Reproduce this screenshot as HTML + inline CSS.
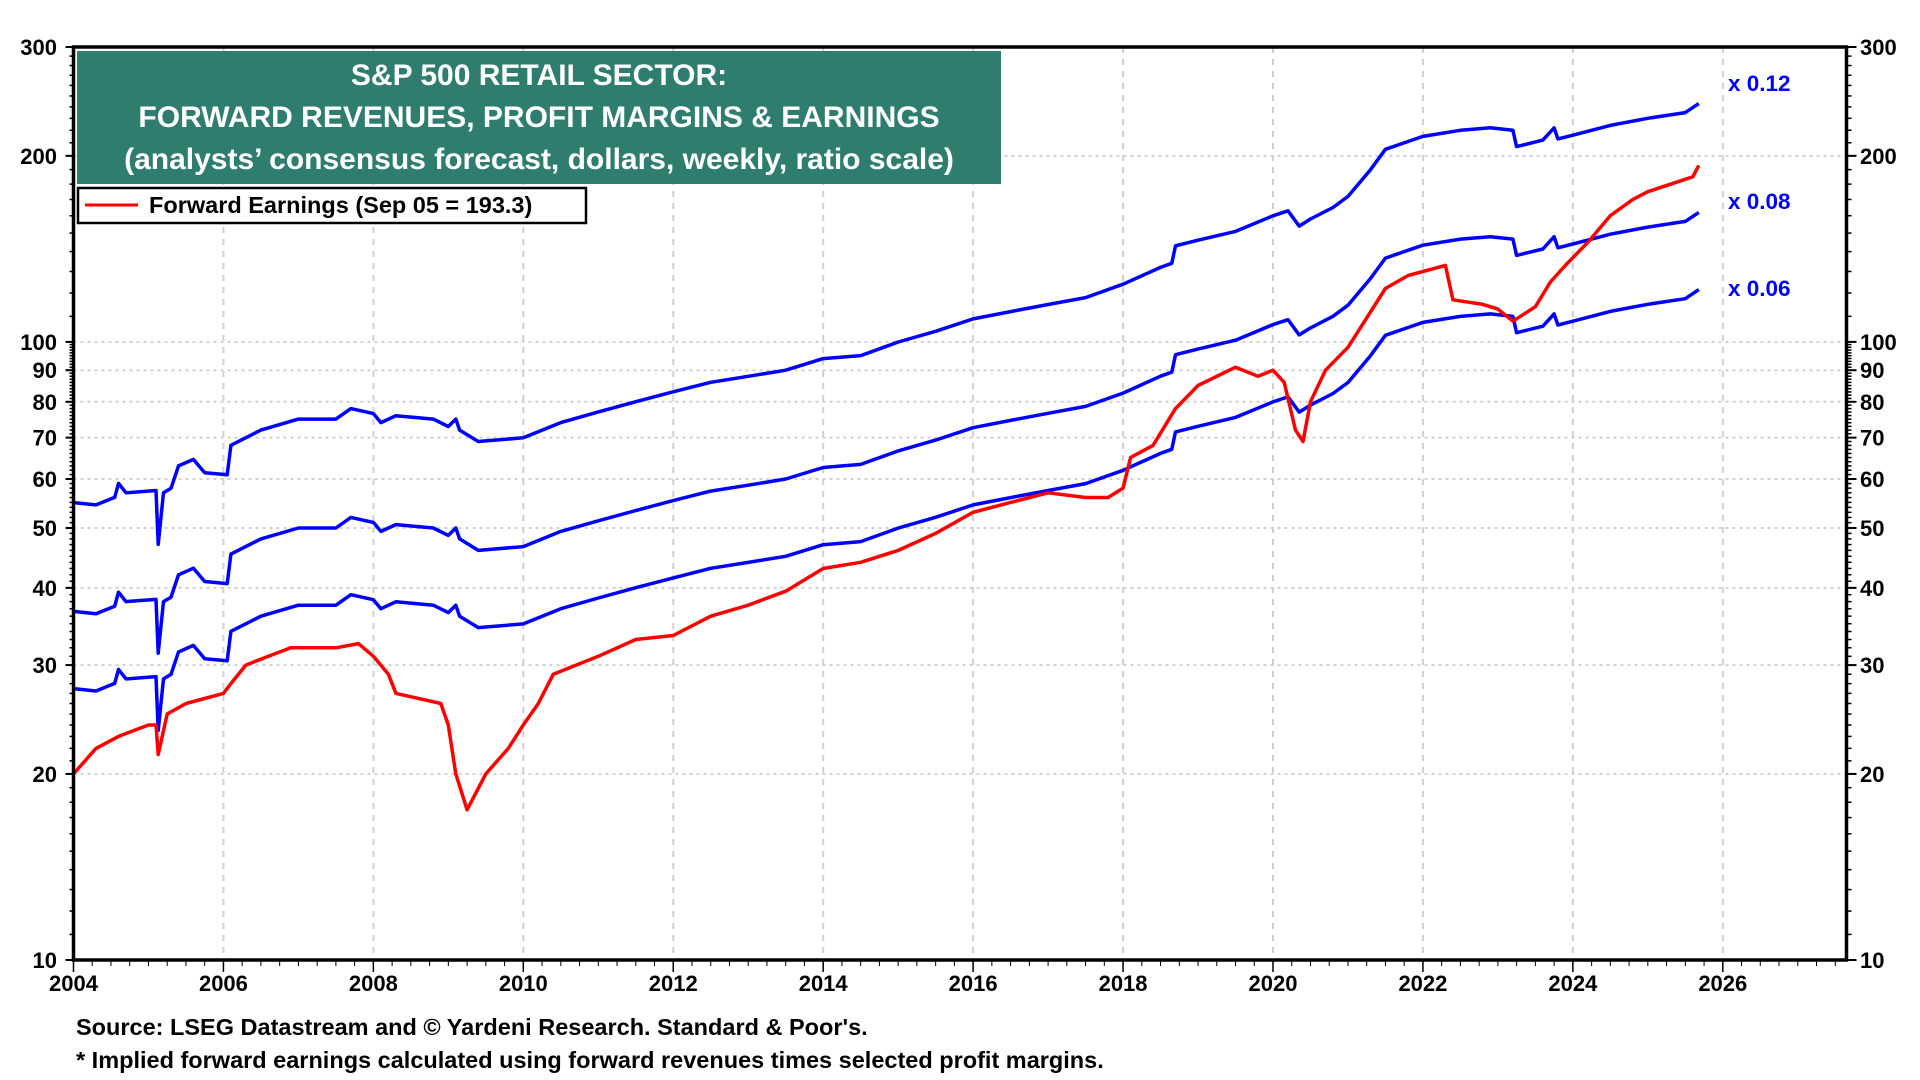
<!DOCTYPE html>
<html><head><meta charset="utf-8"><style>
body{margin:0;background:#fff;}
svg{display:block;font-family:"Liberation Sans",Arial,sans-serif;font-weight:bold;}
</style></head><body>
<svg id="chart" width="1920" height="1080" viewBox="0 0 1920 1080" xmlns="http://www.w3.org/2000/svg">
<g id="grid"></g>
<g id="series"></g>
<rect x="73.5" y="47" width="1773" height="913" fill="none" stroke="#000" stroke-width="3.5"/>
<g id="axes"></g>
<rect x="77" y="51" width="924" height="133" fill="#2e7d6f"/>
<text x="539" y="85" fill="#fff" font-size="30" text-anchor="middle">S&amp;P 500 RETAIL SECTOR:</text>
<text x="539" y="127" fill="#fff" font-size="30" text-anchor="middle">FORWARD REVENUES, PROFIT MARGINS &amp; EARNINGS</text>
<text x="539" y="169" fill="#fff" font-size="30" text-anchor="middle">(analysts’ consensus forecast, dollars, weekly, ratio scale)</text>
<g>
<rect x="78" y="188" width="508" height="35" fill="#fff" stroke="#000" stroke-width="2.5"/>
<line x1="85" y1="205" x2="138" y2="205" stroke="#f00" stroke-width="3"/>
<text x="149" y="213" font-size="23.5">Forward Earnings (Sep 05 = 193.3)</text>
</g>
<text x="1728" y="91" fill="#00f" font-size="22.5">x 0.12</text>
<text x="1728" y="209" fill="#00f" font-size="22.5">x 0.08</text>
<text x="1728" y="296" fill="#00f" font-size="22.5">x 0.06</text>
<text x="76" y="1035" font-size="23.5">Source: LSEG Datastream and © Yardeni Research. Standard &amp; Poor's.</text>
<text x="76" y="1068" font-size="23.5">* Implied forward earnings calculated using forward revenues times selected profit margins.</text>
</svg>
<script>
const revDates=[2004.0,2004.3,2004.55,2004.6,2004.7,2005.1,2005.13,2005.2,2005.3,2005.4,2005.6,2005.75,2006.05,2006.1,2006.5,2007.0,2007.5,2007.7,2008.0,2008.1,2008.3,2008.8,2009.0,2009.1,2009.15,2009.4,2010.0,2010.5,2011.0,2011.5,2012.0,2012.5,2013.0,2013.5,2014.0,2014.5,2015.0,2015.5,2016.0,2016.5,2017.0,2017.5,2018.0,2018.5,2018.65,2018.7,2019.0,2019.5,2020.0,2020.2,2020.35,2020.5,2020.8,2021.0,2021.3,2021.5,2022.0,2022.5,2022.9,2023.2,2023.25,2023.6,2023.75,2023.8,2024.0,2024.5,2025.0,2025.5,2025.68];
const revenues=[458,454,467,492,475,479,392,475,483,525,538,512,508,567,600,625,625,650,638,617,633,625,608,625,600,575,583,617,642,667,692,717,733,750,783,792,833,867,908,933,958,983,1033,1100,1117,1192,1217,1258,1333,1358,1283,1317,1375,1433,1583,1708,1792,1833,1850,1833,1725,1767,1850,1775,1800,1867,1917,1958,2025];
const margins=[0.12,0.08,0.06];
const earnDates=[2004.0,2004.3,2004.6,2005.0,2005.1,2005.13,2005.25,2005.5,2006.0,2006.1,2006.3,2006.6,2006.9,2007.5,2007.8,2008.0,2008.2,2008.3,2008.6,2008.9,2009.0,2009.1,2009.25,2009.5,2009.8,2010.0,2010.2,2010.4,2011.0,2011.5,2012.0,2012.5,2013.0,2013.5,2014.0,2014.5,2015.0,2015.5,2016.0,2016.5,2017.0,2017.5,2017.8,2018.0,2018.1,2018.4,2018.7,2019.0,2019.5,2019.8,2020.0,2020.15,2020.3,2020.4,2020.5,2020.7,2021.0,2021.5,2021.8,2022.0,2022.3,2022.4,2022.8,2023.0,2023.2,2023.5,2023.7,2023.9,2024.2,2024.5,2024.8,2025.0,2025.6,2025.68];
const earnings=[20,22,23,24,24,21.5,25,26,27,28,30,31,32,32,32.5,31,29,27,26.5,26,24,20,17.5,20,22,24,26,29,31,33,33.5,36,37.5,39.5,43,44,46,49,53,55,57,56,56,58,65,68,78,85,91,88,90,86,72,69,80,90,98,122,128,130,133,117,115,113,108,114,125,133,145,160,170,175,185,193];
const yTicks=[10,20,30,40,50,60,70,80,90,100,200,300];
const xTicks=[2004,2006,2008,2010,2012,2014,2016,2018,2020,2022,2024,2026];

const L=73.5,R=1846.5,T=47,B=960,X0=2004,X1=2027.65;
const xs=v=>L+(v-X0)/(X1-X0)*(R-L);
const ys=v=>B-(B-T)*Math.log(v/10)/Math.log(30);
const NS='http://www.w3.org/2000/svg';
function mk(tag,attrs,parent){const e=document.createElementNS(NS,tag);for(const k in attrs)e.setAttribute(k,attrs[k]);parent.appendChild(e);return e;}
const grid=document.getElementById('grid'),axes=document.getElementById('axes'),ser=document.getElementById('series');
yTicks.forEach(v=>{
  const y=ys(v);
  if(v>10&&v<300){const g=mk('line',{x1:L,x2:R,y1:y,y2:y,stroke:'#d0d0d0','stroke-width':2,'stroke-dasharray':'3,4'},grid);
  
  }
  const t1=mk('text',{x:57,y:y+8,'font-size':22,'text-anchor':'end'},axes);t1.textContent=v;
  
  
  const t2=mk('text',{x:1860,y:y+8,'font-size':22},axes);t2.textContent=v;
  
  
  mk('line',{x1:L-8,x2:L,y1:y,y2:y,stroke:'#000','stroke-width':2},axes);
  mk('line',{x1:R,x2:R+10,y1:y,y2:y,stroke:'#000','stroke-width':2},axes);
});
for(let v=10;v<300;v+=(v<100?1:10)){const y=ys(v);mk('line',{x1:L-4,x2:L,y1:y,y2:y,stroke:'#000','stroke-width':1.5},axes);mk('line',{x1:R,x2:R+5,y1:y,y2:y,stroke:'#000','stroke-width':1.5},axes);}
xTicks.forEach(v=>{
  const x=xs(v);
  if(v>2004){const g=mk('line',{x1:x,x2:x,y1:T,y2:B,stroke:'#d0d0d0','stroke-width':2,'stroke-dasharray':'6,6'},grid);
  
  }
  const t=mk('text',{x:x,y:991,'font-size':22,'text-anchor':'middle'},axes);t.textContent=v;
  
  
  mk('line',{x1:x,x2:x,y1:B,y2:B+12,stroke:'#000','stroke-width':1.5},axes);
});
for(let v=2004;v<2027.6;v+=0.25){const x=xs(v);mk('line',{x1:x,x2:x,y1:B,y2:B+6,stroke:'#000','stroke-width':1},axes);}
margins.forEach((m,i)=>{
  const pts=revDates.map((d,j)=>xs(d).toFixed(1)+','+ys(revenues[j]*m).toFixed(1)).join(' ');
  const p=mk('polyline',{points:pts,fill:'none',stroke:'#00f','stroke-width':3.5,'stroke-linejoin':'round'},ser);
  
  
});
const pe=mk('polyline',{points:earnDates.map((d,j)=>xs(d).toFixed(1)+','+ys(earnings[j]).toFixed(1)).join(' '),fill:'none',stroke:'#f00','stroke-width':3.5,'stroke-linejoin':'round'},ser);


</script>
</body></html>
